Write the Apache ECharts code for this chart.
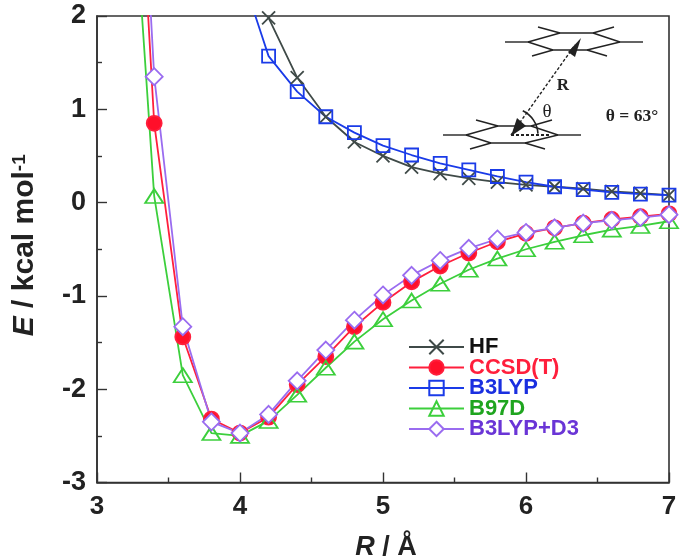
<!DOCTYPE html>
<html>
<head>
<meta charset="utf-8">
<style>html,body{margin:0;padding:0;background:#fff}</style>
<script src="https://cdn.jsdelivr.net/npm/echarts@6/dist/echarts.min.js"></script>
</head>
<body>
<div id="main" style="width:685px;height:556px;"></div>
<script>
// R values, the long curves start one step before the first visible marker
const rLong = [3.2, 3.4, 3.6, 3.8, 4.0, 4.2, 4.4, 4.6, 4.8, 5.0, 5.2, 5.4, 5.6, 5.8, 6.0, 6.2, 6.4, 6.6, 6.8, 7.0];
const rB3lyp = [4.0, 4.2, 4.4, 4.6, 4.8, 5.0, 5.2, 5.4, 5.6, 5.8, 6.0, 6.2, 6.4, 6.6, 6.8, 7.0];
const rHf = [4.2, 4.4, 4.6, 4.8, 5.0, 5.2, 5.4, 5.6, 5.8, 6.0, 6.2, 6.4, 6.6, 6.8, 7.0];

const hf = [1.98, 1.34, 0.92, 0.65, 0.5, 0.38, 0.31, 0.26, 0.22, 0.19, 0.17, 0.15, 0.12, 0.1, 0.08];
const ccsd = [6.3, 0.85, -1.44, -2.32, -2.47, -2.3, -1.95, -1.65, -1.33, -1.07, -0.85, -0.68, -0.54, -0.42, -0.33, -0.27, -0.22, -0.18, -0.15, -0.12];
const b3lyp = [2.5, 1.57, 1.19, 0.92, 0.75, 0.61, 0.51, 0.42, 0.35, 0.28, 0.22, 0.17, 0.14, 0.11, 0.09, 0.08];
const b97d = [4.6, 0.07, -1.85, -2.47, -2.5, -2.34, -2.06, -1.77, -1.49, -1.25, -1.05, -0.87, -0.72, -0.6, -0.5, -0.42, -0.35, -0.29, -0.25, -0.2];
const b3lypD3 = [7.0, 1.35, -1.33, -2.35, -2.47, -2.27, -1.91, -1.58, -1.26, -0.99, -0.78, -0.62, -0.49, -0.39, -0.32, -0.27, -0.22, -0.19, -0.16, -0.13];

const font = '"Liberation Sans", Arial, sans-serif';
const serif = '"Liberation Serif", "Times New Roman", serif';

function pairs(xs, ys) {
  return xs.map((x, i) => [x, ys[i]]);
}

function line(name, xs, ys, color, symbol, size, fill) {
  return {
    name: name,
    type: 'line',
    data: pairs(xs, ys),
    symbol: symbol,
    symbolSize: size,
    showAllSymbol: true,
    lineStyle: { color: color, width: 1.8 },
    itemStyle: { color: fill, borderColor: color, borderWidth: 1.8 },
    emphasis: { disabled: true },
    animation: false
  };
}

// 苯环二聚体示意图
function bond(x1, y1, x2, y2, dash, w) {
  return {
    type: 'line',
    shape: { x1: x1, y1: y1, x2: x2, y2: y2 },
    style: { stroke: '#222', lineWidth: w || 1.4, lineDash: dash ? [3, 2] : null },
    z: 10
  };
}

function benzene(dx, dy) {
  const segs = [
    [0, 42, 23, 42], [23, 42, 55, 33], [55, 33, 88, 33], [88, 33, 115, 42],
    [23, 42, 48, 50], [48, 50, 82, 50], [82, 50, 115, 42],
    [33, 27, 55, 33], [88, 33, 109, 27],
    [27, 56, 48, 50], [82, 50, 102, 56], [115, 42, 138, 42]
  ];
  return segs.map(s => bond(s[0] + dx, s[1] + dy, s[2] + dx, s[3] + dy));
}

function label(x, y, text, size, weight) {
  return {
    type: 'text',
    x: x,
    y: y,
    style: {
      text: text,
      font: (weight || 'normal') + ' ' + size + 'px ' + serif,
      fill: '#222',
      align: 'center',
      verticalAlign: 'middle'
    },
    z: 10
  };
}

const graphics = [].concat(
  benzene(505, 0),
  benzene(443, 93),
  [
    bond(511, 135, 575, 45, true, 1.4),
    bond(511, 135, 551, 135, true, 1.8),
    {
      type: 'polygon',
      shape: { points: [[581, 38], [568, 52], [575, 57]] },
      style: { fill: '#222' },
      z: 10
    },
    {
      type: 'polygon',
      shape: { points: [[511, 136], [517, 118], [526, 126]] },
      style: { fill: '#222' },
      z: 10
    },
    {
      type: 'arc',
      shape: { cx: 511, cy: 135, r: 27, startAngle: -1.12, endAngle: -0.05 },
      style: { stroke: '#222', fill: null, lineWidth: 1.6 },
      z: 10
    },
    label(547, 112, 'θ', 19),
    label(563, 86, 'R', 17, 'bold'),
    label(632, 116, 'θ = 63°', 17.5, 'bold')
  ]
);

const chart = echarts.init(document.getElementById('main'));
chart.setOption({
  animation: false,
  backgroundColor: '#fff',
  grid: {
    left: 97, right: 16, top: 16, bottom: 73.5,
    outerBoundsMode: 'none',
    show: true,
    borderColor: '#333',
    borderWidth: 1.6,
    backgroundColor: 'transparent'
  },
  legend: {
    left: 408,
    top: 336,
    padding: 0,
    orient: 'vertical',
    itemWidth: 55,
    itemHeight: 18,
    itemGap: -1.5,
    selectedMode: false,
    textStyle: { fontFamily: font, fontWeight: 'bold', fontSize: 22, lineHeight: 18, padding: [0, 0, 0, 0] },
    data: [
      { name: 'HF', textStyle: { color: '#111' } },
      { name: 'CCSD(T)', textStyle: { color: '#ff1f3c' } },
      { name: 'B3LYP', textStyle: { color: '#1a2fe0' } },
      { name: 'B97D', textStyle: { color: '#1fa51f' } },
      { name: 'B3LYP+D3', textStyle: { color: '#6a35d6' } }
    ]
  },
  xAxis: {
    type: 'value',
    min: 3,
    max: 7,
    interval: 1,
    name: '{i|R} / Å',
    nameLocation: 'middle',
    nameGap: 52,
    nameTextStyle: {
      rich: {
        i: { fontFamily: font, fontWeight: 'bold', fontStyle: 'italic', fontSize: 27, color: '#222' }
      },
      fontFamily: font, fontWeight: 'bold', fontSize: 27, color: '#222',
      padding: [0, 0, 0, 6]
    },
    axisLine: { show: true, onZero: false, lineStyle: { color: '#333', width: 1.6 } },
    axisTick: { show: true, inside: true, length: 10, lineStyle: { color: '#333', width: 1.4 } },
    minorTick: { show: true, splitNumber: 2, length: 5, lineStyle: { color: '#333', width: 1.4 } },
    splitLine: { show: false },
    axisLabel: { fontFamily: font, fontWeight: 'bold', fontSize: 26, color: '#222', margin: 11 }
  },
  yAxis: {
    type: 'value',
    min: -3,
    max: 2,
    interval: 1,
    name: '{i|E} / kcal mol{s|-1}',
    nameLocation: 'middle',
    nameGap: 49,
    nameTextStyle: {
      rich: {
        i: { fontFamily: font, fontWeight: 'bold', fontStyle: 'italic', fontSize: 30, color: '#222' },
        s: { fontFamily: font, fontWeight: 'bold', fontSize: 19, color: '#222', verticalAlign: 'top', lineHeight: 30 }
      },
      fontFamily: font, fontWeight: 'bold', fontSize: 30, color: '#222',
      padding: [0, 0, 8, 8]
    },
    axisLine: { show: true, onZero: false, lineStyle: { color: '#333', width: 1.6 } },
    axisTick: { show: true, inside: true, length: 10, lineStyle: { color: '#333', width: 1.4 } },
    minorTick: { show: true, splitNumber: 2, length: 5, lineStyle: { color: '#333', width: 1.4 } },
    splitLine: { show: false },
    axisLabel: { fontFamily: font, fontWeight: 'bold', fontSize: 27, color: '#222', margin: 11, padding: [0, 0, 8, 0] }
  },
  series: [
    line('HF', rHf, hf, '#3f4a48', 'path://M0 0L10 10M10 0L0 10', 13, 'transparent'),
    line('CCSD(T)', rLong, ccsd, '#ff1f3c', 'circle', 15, '#ff0f2a'),
    line('B3LYP', rB3lyp, b3lyp, '#1a3be8', 'rect', 13, 'transparent'),
    line('B97D', rLong, b97d, '#3ccf3c', 'triangle', [18, 14], 'transparent'),
    line('B3LYP+D3', rLong, b3lypD3, '#9a6cf0', 'diamond', 17, '#fff')
  ],
  graphic: graphics
});
</script>
</body>
</html>
